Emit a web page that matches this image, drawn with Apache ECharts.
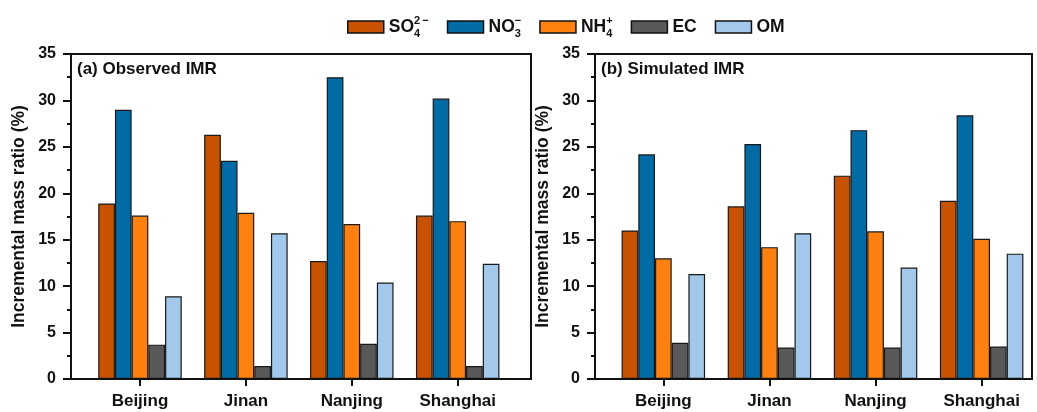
<!DOCTYPE html>
<html>
<head>
<meta charset="utf-8">
<script src="https://cdn.jsdelivr.net/npm/echarts@6/dist/echarts.min.js"></script>
<style>
  html, body { margin: 0; padding: 0; background: #ffffff; }
  #chart { width: 1037px; height: 412px; }
</style>
</head>
<body>
<div id="chart"></div>
<script>
// Cities on the category axis
const cities = ['Beijing', 'Jinan', 'Nanjing', 'Shanghai'];

// Species (series names) and their colours
const species = ['SO4', 'NO3', 'NH4', 'EC', 'OM'];
const speciesColors = ['#c85200', '#006ba4', '#ff800e', '#595959', '#a2c8ec'];

// (a) Observed incremental mass ratio (%)
const observedSO4 = [18.9, 26.3, 12.7, 17.6];
const observedNO3 = [29.0, 23.5, 32.5, 30.2];
const observedNH4 = [17.6, 17.9, 16.7, 17.0];
const observedEC  = [3.7, 1.4, 3.8, 1.4];
const observedOM  = [8.9, 15.7, 10.4, 12.4];

// (b) Simulated incremental mass ratio (%)
const simulatedSO4 = [16.0, 18.6, 21.9, 19.2];
const simulatedNO3 = [24.2, 25.3, 26.8, 28.4];
const simulatedNH4 = [13.0, 14.2, 15.9, 15.1];
const simulatedEC  = [3.9, 3.4, 3.4, 3.5];
const simulatedOM  = [11.3, 15.7, 12.0, 13.5];

// Y axis ticks
const yMin = 0, yMax = 35, yStep = 5;

const observed = [observedSO4, observedNO3, observedNH4, observedEC, observedOM];
const simulated = [simulatedSO4, simulatedNO3, simulatedNH4, simulatedEC, simulatedOM];

const FONT = '"Liberation Sans", Arial, sans-serif';
const INK = '#111111';

// Legend labels with chemical sub/superscripts (subscript has zero width so the charge sits above it)
const legendLabels = {
  SO4: '{m|SO}{sub|4}{sup|2\u2009\u2212}',
  NO3: '{m|NO}{sub|3}{sup|\u2212}',
  NH4: '{m|NH}{sub|4}{sup|+}',
  EC: '{m|EC}',
  OM: '{m|OM}'
};

const chart = echarts.init(document.getElementById('chart'), null, { renderer: 'canvas' });

// Each panel: an outer frame grid (box + value axis) and an inner grid holding the bars
const panels = [
  { frame: { left: 71, width: 460 }, data: { left: 87.05, width: 423.6 }, title: '(a) Observed IMR', titleLeft: 77, values: observed },
  { frame: { left: 595, width: 437 }, data: { left: 610.3, width: 424.4 }, title: '(b) Simulated IMR', titleLeft: 601, values: simulated }
];
const TOP = 54, HEIGHT = 325;

const grids = [], xAxes = [], yAxes = [], series = [], titles = [];

panels.forEach((p, i) => {
  const fi = grids.length;
  grids.push({ left: p.frame.left, top: TOP, width: p.frame.width, height: HEIGHT,
    show: true, borderColor: INK, borderWidth: 2, backgroundColor: 'transparent', z: 5 });
  const di = grids.length;
  grids.push({ left: p.data.left, top: TOP, width: p.data.width, height: HEIGHT });

  xAxes.push({ gridIndex: fi, type: 'value', min: 0, max: 1, show: false });
  xAxes.push({
    gridIndex: di, type: 'category', data: cities,
    axisLine: { show: false },
    axisTick: { show: true, alignWithLabel: true, length: 7, lineStyle: { color: INK, width: 2 } },
    axisLabel: { fontFamily: FONT, fontWeight: 'bold', fontSize: 17, color: INK, margin: 14 }
  });

  yAxes.push({
    gridIndex: fi, type: 'value', min: yMin, max: yMax, interval: yStep,
    name: 'Incremental mass ratio (%)', nameLocation: 'middle', nameGap: 43,
    nameTextStyle: { fontFamily: FONT, fontWeight: 'bold', fontSize: 17.5, color: INK },
    axisLine: { show: true, lineStyle: { color: INK, width: 2 } },
    axisTick: { show: true, inside: false, length: 8, lineStyle: { color: INK, width: 2 } },
    minorTick: { show: true, splitNumber: 2, length: 4, lineStyle: { color: INK, width: 2 } },
    splitLine: { show: false },
    axisLabel: { fontFamily: FONT, fontWeight: 'bold', fontSize: 16, color: INK, margin: 15 }
  });
  yAxes.push({ gridIndex: di, type: 'value', min: yMin, max: yMax, show: false });

  species.forEach((s, k) => {
    series.push({
      name: s, type: 'bar', xAxisIndex: 2 * i + 1, yAxisIndex: 2 * i + 1,
      data: p.values[k], barWidth: 16.7, barGap: '0%',
      itemStyle: { color: speciesColors[k], borderColor: '#1a1a1a', borderWidth: 1.2 },
      emphasis: { disabled: true }
    });
  });

  titles.push({ text: p.title, left: p.titleLeft, top: 61, padding: 0,
    textStyle: { fontFamily: FONT, fontWeight: 'bold', fontSize: 17, color: INK } });
});

chart.setOption({
  animation: false,
  color: speciesColors,
  title: titles,
  legend: {
    data: species, left: 347, top: 15, padding: 0, itemGap: 18, itemWidth: 36, itemHeight: 12, icon: 'rect',
    itemStyle: { borderColor: INK, borderWidth: 1.5 },
    formatter: name => legendLabels[name],
    textStyle: {
      fontFamily: FONT, fontWeight: 'bold', fontSize: 17, color: INK, padding: [0, 0, 0, 0],
      rich: {
        m: { fontFamily: FONT, fontWeight: 'bold', fontSize: 17.5, color: INK, lineHeight: 24 },
        sub: { fontFamily: FONT, fontWeight: 'bold', fontSize: 11, color: INK, verticalAlign: 'bottom', width: 0 },
        sup: { fontFamily: FONT, fontWeight: 'bold', fontSize: 11, color: INK, verticalAlign: 'top' }
      }
    }
  },
  grid: grids,
  xAxis: xAxes,
  yAxis: yAxes,
  series: series
});
</script>
</body>
</html>
